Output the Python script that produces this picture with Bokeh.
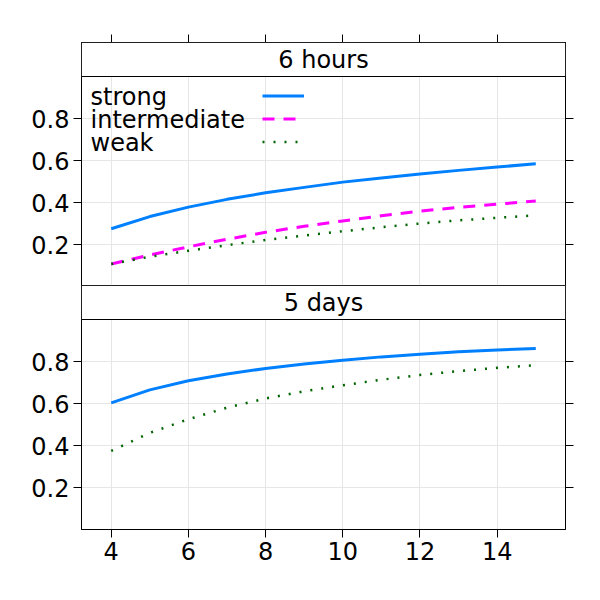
from bokeh.plotting import figure
from bokeh.models import (Range1d, LinearAxis, FixedTicker, Grid, BoxAnnotation,
                          Label, Legend, LegendItem, CustomJSTickFormatter)
from bokeh.layouts import column
from bokeh.embed import file_html
from bokeh.resources import INLINE

# ---- data ----
x = [4, 5, 6, 7, 8, 9, 10, 11, 12, 13, 14, 15]
six_hours_strong = [0.275, 0.333, 0.378, 0.415, 0.446, 0.472, 0.497, 0.517, 0.536, 0.553, 0.569, 0.584]
six_hours_intermediate = [0.107, 0.150, 0.189, 0.225, 0.258, 0.287, 0.312, 0.337, 0.359, 0.377, 0.392, 0.407]
six_hours_weak = [0.107, 0.142, 0.170, 0.197, 0.222, 0.243, 0.263, 0.282, 0.300, 0.315, 0.327, 0.339]
five_days_strong = [0.603, 0.665, 0.708, 0.740, 0.767, 0.788, 0.806, 0.822, 0.835, 0.846, 0.855, 0.862]
five_days_weak = [0.374, 0.460, 0.525, 0.580, 0.624, 0.658, 0.687, 0.713, 0.736, 0.754, 0.770, 0.782]
panel_titles = ["6 hours", "5 days"]
legend_labels = ["strong", "intermediate", "weak"]
x_ticks = [4, 6, 8, 10, 12, 14]
y_ticks = [0.2, 0.4, 0.6, 0.8]

# ---- styles ----
FONT = "DejaVu Sans"
FS = "24px"
COLORS = {"strong": "#0080ff", "intermediate": "#ff00ff", "weak": "#006400"}
STYLES = {"strong": dict(line_width=3),
          "intermediate": dict(line_width=3, line_dash="12 9"),
          "weak": dict(line_width=2.5, line_dash="2 9")}
FRAME_W = 484
PANEL_PX = 210
STRIP_PX = 34
XR = (3.23, 15.77)
YTOP = 1 + STRIP_PX / PANEL_PX
LEFT = 81
TEXT_SHIFT = 9  # baseline correction for screen-unit labels


def axis(ticks, labels=True):
    a = LinearAxis(ticker=FixedTicker(ticks=ticks))
    a.axis_line_color = "black"
    a.major_tick_line_color = "black"
    a.major_tick_out = 8
    a.major_tick_in = 0
    a.minor_tick_line_color = None
    a.major_label_text_font = FONT
    a.major_label_text_color = "black"
    a.major_label_text_font_size = FS
    if labels:
        a.major_label_standoff = 4
    else:
        a.formatter = CustomJSTickFormatter(code="return ''")
        a.major_label_standoff = 0
    return a


def panel(title, top_axis, bottom_axis):
    p = figure(frame_width=FRAME_W, frame_height=PANEL_PX + STRIP_PX,
               x_range=Range1d(*XR), y_range=Range1d(0, YTOP),
               x_axis_location=None, y_axis_location=None,
               output_backend="svg", toolbar_location=None,
               min_border_left=LEFT, min_border_right=18,
               min_border_top=42 if top_axis else 0,
               min_border_bottom=50 if bottom_axis else 0,
               background_fill_color="white", border_fill_color="white",
               outline_line_color="black", outline_line_width=1)
    for g in p.grid:
        g.visible = False
    p.add_layout(Grid(dimension=0, ticker=FixedTicker(ticks=x_ticks),
                      grid_line_color="#e6e6e6", grid_line_width=1))
    p.add_layout(Grid(dimension=1, ticker=FixedTicker(ticks=y_ticks),
                      grid_line_color="#e6e6e6", grid_line_width=1))
    p.add_layout(axis(y_ticks, True), "left")
    p.add_layout(axis(y_ticks, False), "right")
    if top_axis:
        p.add_layout(axis(x_ticks, False), "above")
    if bottom_axis:
        p.add_layout(axis(x_ticks, True), "below")
    # strip
    p.add_layout(BoxAnnotation(bottom=1.0, fill_color="white", fill_alpha=1,
                               line_color="black", line_alpha=1, line_width=1))
    p.add_layout(Label(x=FRAME_W / 2, y=PANEL_PX + 7.5 + TEXT_SHIFT,
                       x_units="screen", y_units="screen",
                       text=title, text_align="center", text_baseline="alphabetic",
                       text_font=FONT, text_font_size=FS, text_color="black"))
    return p


p1 = panel(panel_titles[0], True, False)
r_s = p1.line(x, six_hours_strong, line_color=COLORS["strong"], **STYLES["strong"])
r_i = p1.line(x, six_hours_intermediate, line_color=COLORS["intermediate"], **STYLES["intermediate"])
r_w = p1.line(x, six_hours_weak, line_color=COLORS["weak"], **STYLES["weak"])

# lattice-style key: text on the left (labels), line samples on the right (legend)
ROW = 23
legend = Legend(items=[LegendItem(label=" ", renderers=[r]) for r in (r_s, r_i, r_w)],
                location=(181, 133), glyph_width=42, glyph_height=ROW, label_height=ROW,
                label_width=1, label_standoff=0, spacing=0, padding=0, margin=0,
                label_text_font=FONT, label_text_font_size="16px",
                border_line_color=None, background_fill_alpha=0)
p1.add_layout(legend)
for k, lab in enumerate(legend_labels):
    p1.add_layout(Label(x=9, y=181 - k * 23.3 + TEXT_SHIFT, x_units="screen", y_units="screen",
                        text=lab, text_align="left", text_baseline="alphabetic",
                        text_font=FONT, text_font_size=FS, text_color="black"))

p2 = panel(panel_titles[1], False, True)
p2.line(x, five_days_strong, line_color=COLORS["strong"], **STYLES["strong"])
p2.line(x, five_days_weak, line_color=COLORS["weak"], **STYLES["weak"])
p2.margin = (-1, 0, 0, 0)

layout = column(p1, p2, spacing=0)
open("out.html", "w").write(file_html(layout, INLINE))
